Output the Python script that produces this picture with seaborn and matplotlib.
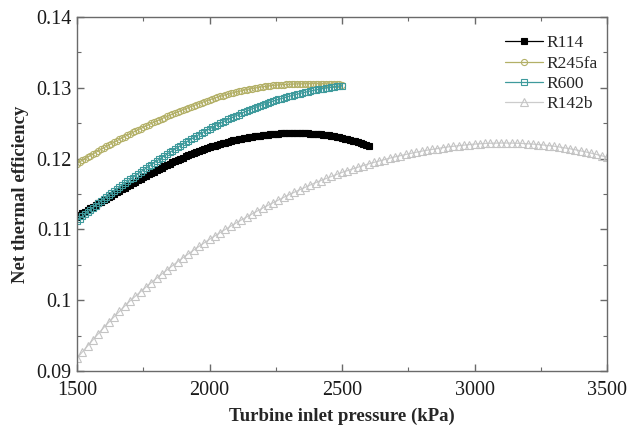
import matplotlib
matplotlib.use("Agg")
import matplotlib.pyplot as plt
import seaborn as sns
import pandas as pd
from matplotlib.ticker import MultipleLocator

# ---------------- data ----------------
series_names = ["R114", "R245fa", "R600", "R142b"]

pressure_r114 = list(range(1500, 2610, 10))
eff_r114 = [
    0.11180, 0.11204, 0.11228, 0.11251, 0.11274, 0.11297, 0.11320, 0.11343, 0.11366, 0.11388,
    0.11410, 0.11433, 0.11456, 0.11478, 0.11500, 0.11522, 0.11544, 0.11566, 0.11588, 0.11609,
    0.11630, 0.11652, 0.11673, 0.11694, 0.11715, 0.11736, 0.11756, 0.11776, 0.11796, 0.11816,
    0.11835, 0.11855, 0.11874, 0.11893, 0.11911, 0.11929, 0.11947, 0.11964, 0.11981, 0.11998,
    0.12015, 0.12031, 0.12047, 0.12062, 0.12077, 0.12092, 0.12106, 0.12120, 0.12134, 0.12147,
    0.12160, 0.12172, 0.12184, 0.12195, 0.12206, 0.12217, 0.12227, 0.12237, 0.12247, 0.12256,
    0.12265, 0.12273, 0.12281, 0.12288, 0.12295, 0.12302, 0.12308, 0.12314, 0.12320, 0.12325,
    0.12330, 0.12335, 0.12339, 0.12343, 0.12347, 0.12350, 0.12353, 0.12356, 0.12358, 0.12359,
    0.12360, 0.12361, 0.12361, 0.12361, 0.12360, 0.12359, 0.12358, 0.12356, 0.12354, 0.12352,
    0.12350, 0.12347, 0.12343, 0.12338, 0.12333, 0.12327, 0.12321, 0.12314, 0.12307, 0.12299,
    0.12290, 0.12281, 0.12272, 0.12262, 0.12252, 0.12242, 0.12231, 0.12220, 0.12209, 0.12197,
    0.12185,
]

pressure_r245fa = list(range(1500, 2510, 10))
eff_r245fa = [
    0.11930, 0.11953, 0.11976, 0.11998, 0.12020, 0.12042, 0.12064, 0.12086, 0.12108, 0.12129,
    0.12150, 0.12171, 0.12192, 0.12212, 0.12232, 0.12252, 0.12272, 0.12292, 0.12312, 0.12331,
    0.12350, 0.12369, 0.12388, 0.12406, 0.12424, 0.12442, 0.12460, 0.12478, 0.12496, 0.12513,
    0.12530, 0.12547, 0.12564, 0.12580, 0.12596, 0.12612, 0.12628, 0.12644, 0.12660, 0.12675,
    0.12690, 0.12705, 0.12720, 0.12734, 0.12748, 0.12762, 0.12776, 0.12790, 0.12804, 0.12817,
    0.12830, 0.12843, 0.12855, 0.12867, 0.12879, 0.12890, 0.12901, 0.12911, 0.12921, 0.12931,
    0.12940, 0.12949, 0.12958, 0.12966, 0.12974, 0.12982, 0.12989, 0.12996, 0.13003, 0.13009,
    0.13015, 0.13020, 0.13025, 0.13030, 0.13034, 0.13038, 0.13041, 0.13044, 0.13046, 0.13048,
    0.13050, 0.13052, 0.13054, 0.13055, 0.13056, 0.13057, 0.13058, 0.13059, 0.13060, 0.13060,
    0.13060, 0.13060, 0.13059, 0.13058, 0.13057, 0.13056, 0.13054, 0.13052, 0.13050, 0.13048,
    0.13045,
]

pressure_r600 = list(range(1500, 2510, 10))
eff_r600 = [
    0.11120, 0.11152, 0.11183, 0.11214, 0.11245, 0.11276, 0.11306, 0.11336, 0.11366, 0.11396,
    0.11425, 0.11454, 0.11483, 0.11511, 0.11539, 0.11567, 0.11595, 0.11623, 0.11651, 0.11678,
    0.11705, 0.11732, 0.11759, 0.11785, 0.11811, 0.11837, 0.11863, 0.11889, 0.11915, 0.11940,
    0.11965, 0.11990, 0.12015, 0.12039, 0.12063, 0.12087, 0.12111, 0.12135, 0.12159, 0.12182,
    0.12205, 0.12228, 0.12251, 0.12273, 0.12295, 0.12317, 0.12338, 0.12359, 0.12380, 0.12400,
    0.12420, 0.12440, 0.12460, 0.12479, 0.12498, 0.12517, 0.12535, 0.12553, 0.12571, 0.12588,
    0.12605, 0.12622, 0.12639, 0.12655, 0.12671, 0.12687, 0.12702, 0.12717, 0.12732, 0.12746,
    0.12760, 0.12774, 0.12787, 0.12800, 0.12812, 0.12824, 0.12836, 0.12847, 0.12858, 0.12869,
    0.12880, 0.12890, 0.12900, 0.12910, 0.12919, 0.12928, 0.12937, 0.12946, 0.12954, 0.12962,
    0.12970, 0.12977, 0.12984, 0.12990, 0.12996, 0.13002, 0.13008, 0.13014, 0.13020, 0.13025,
    0.13030,
]

pressure_r142b = list(range(1500, 3520, 20))
eff_r142b = [
    0.09180, 0.09268, 0.09355, 0.09441, 0.09526, 0.09610, 0.09689, 0.09766, 0.09842, 0.09917,
    0.09990, 0.10056, 0.10121, 0.10185, 0.10248, 0.10310, 0.10370, 0.10429, 0.10487, 0.10544,
    0.10600, 0.10654, 0.10707, 0.10759, 0.10810, 0.10860, 0.10908, 0.10955, 0.11001, 0.11046,
    0.11090, 0.11133, 0.11175, 0.11217, 0.11259, 0.11300, 0.11339, 0.11377, 0.11415, 0.11453,
    0.11490, 0.11525, 0.11559, 0.11593, 0.11627, 0.11660, 0.11690, 0.11719, 0.11748, 0.11777,
    0.11805, 0.11830, 0.11854, 0.11878, 0.11902, 0.11925, 0.11946, 0.11966, 0.11986, 0.12006,
    0.12025, 0.12042, 0.12058, 0.12074, 0.12090, 0.12105, 0.12118, 0.12130, 0.12142, 0.12154,
    0.12165, 0.12174, 0.12182, 0.12190, 0.12198, 0.12205, 0.12210, 0.12214, 0.12217, 0.12219,
    0.12220, 0.12220, 0.12219, 0.12217, 0.12214, 0.12210, 0.12205, 0.12199, 0.12192, 0.12184,
    0.12175, 0.12164, 0.12152, 0.12139, 0.12125, 0.12110, 0.12094, 0.12077, 0.12059, 0.12040,
    0.12020,
]

x_ticks = [1500, 2000, 2500, 3000, 3500]
x_tick_labels = ["1500", "2000", "2500", "3000", "3500"]
y_ticks = [0.09, 0.10, 0.11, 0.12, 0.13, 0.14]
y_tick_labels = ["0.09", "0.1", "0.11", "0.12", "0.13", "0.14"]

x_label = "Turbine inlet pressure (kPa)"
y_label = "Net thermal efficiency"

# ---------------- styling ----------------
sns.set_style("ticks")
plt.rcParams["font.family"] = ["Liberation Serif", "DejaVu Serif"]

fig = plt.figure(figsize=(6.28, 4.33), dpi=100)
ax = fig.add_axes([77 / 628, 1 - 371 / 433, 530 / 628, 354 / 433])

styles = {
    "R114":   dict(color="#000000", marker="s", mfc="#000000", mec="#000000", ms=4.0),
    "R245fa": dict(color="#b3b067", marker="o", mfc="none",    mec="#b3b067", ms=4.4),
    "R600":   dict(color="#3e9a9c", marker="s", mfc="none",    mec="#3e9a9c", ms=4.8),
    "R142b":  dict(color="#cccccc", marker="^", mfc="none",    mec="#c4c4c4", ms=5.2),
}

data = {
    "R114": (pressure_r114, eff_r114),
    "R245fa": (pressure_r245fa, eff_r245fa),
    "R600": (pressure_r600, eff_r600),
    "R142b": (pressure_r142b, eff_r142b),
}

for name in series_names:
    xs, ys = data[name]
    st = styles[name]
    df = pd.DataFrame({"p": xs, "eff": ys})
    sns.lineplot(data=df, x="p", y="eff", ax=ax, label=name,
                 color=st["color"], linewidth=0.9,
                 marker=st["marker"], markersize=st["ms"],
                 markerfacecolor=st["mfc"], markeredgecolor=st["mec"],
                 markeredgewidth=0.8, estimator=None, sort=False)

ax.set_xlim(1500, 3500)
ax.set_ylim(0.09, 0.14)
ax.set_xticks(x_ticks)
ax.set_xticklabels(x_tick_labels)
ax.set_yticks(y_ticks)
ax.set_yticklabels(y_tick_labels)
ax.xaxis.set_minor_locator(MultipleLocator(250))
ax.yaxis.set_minor_locator(MultipleLocator(0.005))

spine_col = "#6a6a6a"
for sp in ax.spines.values():
    sp.set_visible(True)
    sp.set_color(spine_col)
    sp.set_linewidth(1.0)

ax.tick_params(which="both", direction="in", top=True, right=True,
               color=spine_col, labelsize=14.5, labelcolor="#1a1a1a")
ax.tick_params(which="major", length=5, width=1.0)
ax.tick_params(which="minor", length=2.8, width=0.8)
ax.tick_params(axis="x", which="major", pad=7)
ax.tick_params(axis="y", which="major", pad=4)

ax.set_xlabel(x_label, fontsize=13.5, fontweight="bold", labelpad=6)
ax.set_ylabel(y_label, fontsize=13.5, fontweight="bold", labelpad=5)

leg = ax.legend(loc="upper left", bbox_to_anchor=(0.795, 0.968), frameon=False,
                fontsize=12.5, handlelength=2.2, handletextpad=0.15,
                labelspacing=0.24, borderaxespad=0.0)

fig.savefig("out.png", dpi=100)
